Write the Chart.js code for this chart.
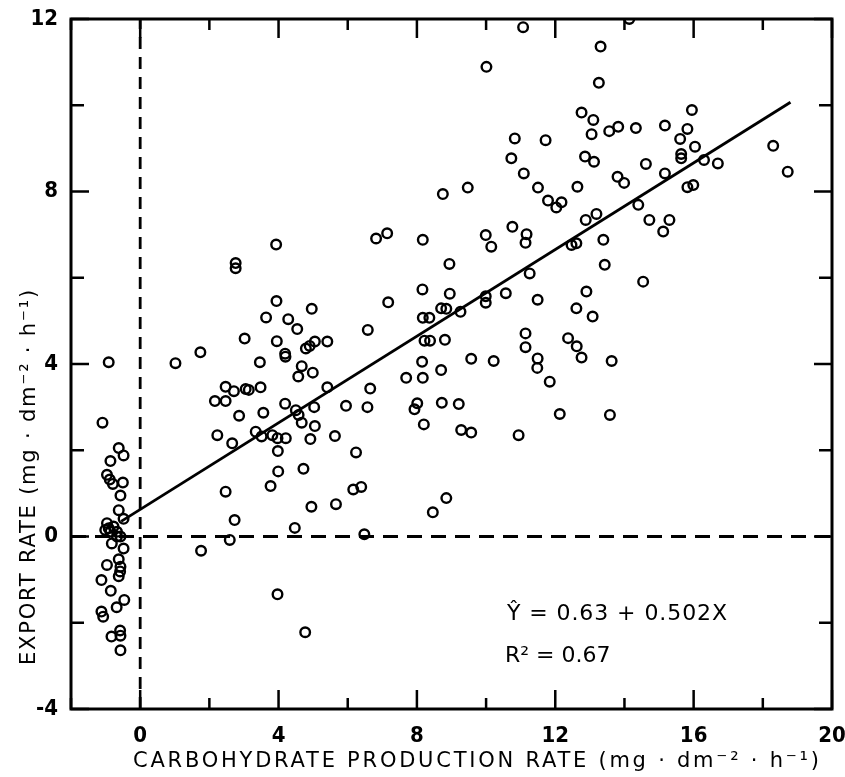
<!DOCTYPE html>
<html>
<head>
<meta charset="utf-8">
<script src="https://cdn.jsdelivr.net/npm/chart.js@4.4.1/dist/chart.umd.min.js"></script>
<style>
  body { margin: 0; background: #fff; }
  #wrap { width: 845px; height: 777px; position: relative; }
</style>
</head>
<body>
<div id="wrap"><canvas id="chart"></canvas></div>
<script>
// carbohydrate production rate (x) vs export rate (y), mg dm-2 h-1
const prodRate = [
  11.07, 14.14, 13.31, 10.01, 13.26, 12.76, 13.10, 13.05, 13.56, 13.82,
  14.33, 15.17, 15.95, 15.82, 15.61, 16.04, 15.64, 15.64, 16.30, 16.70,
  18.30, 18.72, 15.82, 15.99, 15.17, 14.62, 10.83, 11.72, 10.73, 11.09,
  11.50, 11.79, 12.03, 12.18, 12.64, 12.86, 13.12, 13.80, 13.99, 14.40,
  14.72, 15.30, 15.12, 12.88, 13.19, 13.39, 12.47, 12.61, 10.76, 11.17,
  9.99, 10.15, 11.14, 9.47, 8.75, 8.17, 7.14, 6.82, 3.93,
  13.43, 14.54, 12.90, 12.61, 13.08, 12.37, 12.62, 12.76, 13.63, 11.26,
  11.49, 8.94, 8.16, 8.95, 9.99, 9.99, 10.57, 8.70, 8.85, 9.26,
  8.17, 8.36, 8.22, 8.38, 8.81, 8.15, 8.70, 9.57, 10.22, 11.14,
  11.14, 11.49, 11.48, 11.84, 7.17, 7.69, 8.17, 8.01, 7.93, 8.72,
  9.21, 8.20, 9.28, 9.57, 10.94, 12.13, 13.58, 8.46, 8.85,
  2.76, 2.76, 3.94, 4.96, 3.64, 4.28, 4.54, 6.58, 3.02, 3.95,
  4.79, 4.90, 5.05, 5.41, 4.19, 4.20, 1.74, 1.02, -0.91, 3.46,
  4.67, 4.99, 4.57, 2.47, 2.71, 2.16, 2.47, 3.05, 3.14, 3.48,
  5.41, 6.65, 4.19, 4.50, 4.58, 5.03, 5.95, 6.57, 2.86, 3.56,
  4.67, 5.05, 2.23, 2.66, 3.34, 3.51, 3.82, 3.97, 4.21, 4.92,
  5.63, 3.98, 6.24, 3.99, 4.72, 2.47, 3.77, 6.16, 6.39, 2.73,
  1.76, 2.59, 4.47, 4.95, 5.66, 6.48, 3.97, 4.77,
  -1.09, -0.62, -0.48, -0.86, -0.96, -0.88, -0.79, -0.50, -0.57, -0.62,
  -0.48, -0.96, -0.91, -1.01, -0.86, -0.77, -0.67, -0.67, -0.57, -0.82,
  -0.48, -0.62, -0.96, -0.57, -0.58, -0.62, -1.12, -0.85, -0.46, -0.68,
  -1.12, -1.07, -0.58, -0.57, -0.83, -0.57
];
const exportRate = [
  11.81, 12.0, 11.36, 10.89, 10.52, 9.83, 9.66, 9.33, 9.40, 9.50,
  9.47, 9.53, 9.89, 9.45, 9.22, 9.04, 8.87, 8.77, 8.73, 8.65,
  9.06, 8.46, 8.10, 8.15, 8.42, 8.64, 9.23, 9.19, 8.77, 8.42,
  8.09, 7.79, 7.63, 7.75, 8.11, 8.81, 8.69, 8.34, 8.20, 7.69,
  7.34, 7.34, 7.07, 7.34, 7.48, 6.88, 6.76, 6.80, 7.18, 7.01,
  6.99, 6.72, 6.81, 8.09, 7.94, 6.88, 7.03, 6.91, 6.77,
  6.30, 5.91, 5.68, 5.29, 5.10, 4.60, 4.41, 4.15, 4.07, 6.10,
  5.49, 6.32, 5.73, 5.63, 5.57, 5.42, 5.64, 5.29, 5.28, 5.21,
  5.07, 5.07, 4.54, 4.54, 4.56, 4.05, 3.86, 4.12, 4.07, 4.71,
  4.39, 4.13, 3.91, 3.59, 5.43, 3.68, 3.68, 3.09, 2.95, 3.10,
  3.07, 2.60, 2.47, 2.41, 2.35, 2.84, 2.82, 0.56, 0.89,
  6.34, 6.22, 5.46, 5.28, 5.08, 5.04, 4.81, 4.79, 4.59, 4.53,
  4.36, 4.42, 4.52, 4.52, 4.24, 4.17, 4.27, 4.02, 4.04, 4.04,
  3.95, 3.80, 3.71, 3.47, 3.37, 3.14, 3.14, 3.42, 3.40, 3.46,
  3.46, 3.43, 3.08, 2.93, 2.82, 3.00, 3.03, 3.00, 2.80, 2.87,
  2.64, 2.56, 2.35, 2.16, 2.43, 2.32, 2.35, 2.28, 2.28, 2.26,
  2.33, 1.98, 1.95, 1.51, 1.57, 1.04, 1.17, 1.09, 1.15, 0.38,
  -0.33, -0.08, 0.20, 0.69, 0.75, 0.05, -1.34, -2.22,
  2.64, 2.05, 1.88, 1.75, 1.43, 1.32, 1.22, 1.25, 0.95, 0.61,
  0.41, 0.31, 0.19, 0.15, 0.11, 0.23, 0.11, 0.00, 0.00, -0.16,
  -0.28, -0.53, -0.66, -0.70, -0.81, -0.92, -1.01, -1.26, -1.47, -1.64,
  -1.74, -1.86, -2.18, -2.30, -2.32, -2.64
];

// fitted line end points (Y = 0.63 + 0.502X)
const fitX = [-0.55, 18.8];
const fitY = [0.35, 10.07];

const xTickLabels = ['0', '4', '8', '12', '16', '20'];
const yTickLabels = ['-4', '0', '4', '8', '12'];

const xTitle = 'CARBOHYDRATE PRODUCTION RATE (mg \u00b7 dm\u207b\u00b2 \u00b7 h\u207b\u00b9)';
const yTitle = 'EXPORT RATE (mg \u00b7 dm\u207b\u00b2 \u00b7 h\u207b\u00b9)';
const eqText = '\u0176 = 0.63 + 0.502X';
const r2Text = 'R\u00b2 = 0.67';

const FONT = '"DejaVu Sans", sans-serif';
const TICK_FONT = '"DejaVu Sans Condensed", "DejaVu Sans", sans-serif';

const points = prodRate.map((v, i) => ({ x: v, y: exportRate[i] }));
const fitLine = fitX.map((v, i) => ({ x: v, y: fitY[i] }));

// draw text stretched with letter spacing so it spans a given width
function spacedText(ctx, text, x, y, width) {
  ctx.letterSpacing = '0px';
  const natural = ctx.measureText(text).width;
  const gap = Math.max(0, (width - natural) / (text.length - 1));
  ctx.letterSpacing = gap.toFixed(2) + 'px';
  ctx.fillText(text, x, y);
  ctx.letterSpacing = '0px';
}

// frame with inward ticks on all four sides, plus axis titles and equation
const framePlugin = {
  id: 'frame',
  afterDraw(chart) {
    const { ctx, chartArea: a, scales: { x, y } } = chart;
    ctx.save();
    ctx.strokeStyle = '#000';
    ctx.lineWidth = 3;
    ctx.strokeRect(a.left, a.top, a.right - a.left, a.bottom - a.top);

    ctx.lineWidth = 2.5;
    ctx.beginPath();
    x.ticks.forEach(t => {
      const px = x.getPixelForValue(t.value);
      const len = t.value % 4 === 0 ? 19 : 11;
      ctx.moveTo(px, a.bottom); ctx.lineTo(px, a.bottom - len);
      ctx.moveTo(px, a.top); ctx.lineTo(px, a.top + len);
    });
    y.ticks.forEach(t => {
      const py = y.getPixelForValue(t.value);
      const len = t.value % 4 === 0 ? 18 : 13;
      ctx.moveTo(a.left, py); ctx.lineTo(a.left + len, py);
      ctx.moveTo(a.right, py); ctx.lineTo(a.right - len, py);
    });
    ctx.stroke();

    ctx.fillStyle = '#000';
    ctx.textBaseline = 'middle';
    ctx.textAlign = 'left';
    ctx.font = '21px ' + FONT;
    spacedText(ctx, xTitle, 133, 762, 686);

    ctx.save();
    ctx.translate(30, 665);
    ctx.rotate(-Math.PI / 2);
    spacedText(ctx, yTitle, 0, 0, 375);
    ctx.restore();

    ctx.font = '22px ' + FONT;
    spacedText(ctx, eqText, 507, 614, 220);
    spacedText(ctx, r2Text, 505, 656, 105);
    ctx.restore();
  }
};

new Chart(document.getElementById('chart'), {
  type: 'scatter',
  data: {
    datasets: [
      {
        data: points,
        pointStyle: 'circle',
        pointRadius: 4.8,
        pointBorderWidth: 2.4,
        pointBorderColor: '#000',
        pointBackgroundColor: 'rgba(0,0,0,0)',
        clip: 0
      },
      {
        type: 'line',
        data: fitLine,
        borderColor: '#000',
        borderWidth: 2.8,
        pointRadius: 0,
        fill: false
      },
      {
        type: 'line',
        data: [{ x: -2, y: 0 }, { x: 20, y: 0 }],
        borderColor: '#000',
        borderWidth: 2.8,
        borderDash: [15, 9],
        pointRadius: 0,
        fill: false
      },
      {
        type: 'line',
        data: [{ x: 0, y: -4 }, { x: 0, y: 12 }],
        borderColor: '#000',
        borderWidth: 2.8,
        borderDash: [12, 8],
        pointRadius: 0,
        fill: false
      }
    ]
  },
  options: {
    responsive: true,
    maintainAspectRatio: false,
    animation: false,
    events: [],
    layout: { padding: { top: 19, right: 13, left: 0, bottom: 0 } },
    plugins: {
      legend: { display: false },
      tooltip: { enabled: false }
    },
    scales: {
      x: {
        type: 'linear',
        min: -2,
        max: 20,
        grid: { display: false, drawTicks: false },
        border: { display: false },
        afterFit: s => { s.height = 68; s.paddingLeft = 0; s.paddingRight = 0; },
        ticks: {
          stepSize: 2,
          padding: 14,
          color: '#000',
          font: { size: 22, family: TICK_FONT, weight: 'bold' },
          callback: v => xTickLabels.includes(String(v)) ? String(v) : ''
        }
      },
      y: {
        type: 'linear',
        min: -4,
        max: 12,
        grid: { display: false, drawTicks: false },
        border: { display: false },
        afterFit: s => { s.width = 71; s.paddingTop = 0; s.paddingBottom = 0; },
        ticks: {
          stepSize: 2,
          padding: 13,
          color: '#000',
          font: { size: 22, family: TICK_FONT, weight: 'bold' },
          callback: v => yTickLabels.includes(String(v)) ? String(v) : ''
        }
      }
    }
  },
  plugins: [framePlugin]
});
</script>
</body>
</html>
